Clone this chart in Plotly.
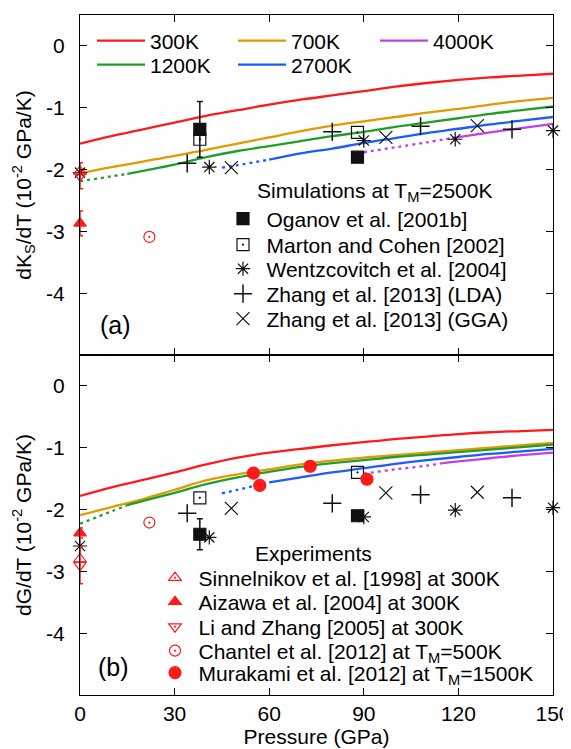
import plotly.graph_objects as go
from plotly.subplots import make_subplots

# ---------------- data ----------------
# Model curves, panel (a): dKs/dT (10^-2 GPa/K)
P_full = [0, 10, 20, 30, 40, 50, 60, 70, 80, 90, 100, 110, 120, 130, 140, 150]
K_300 = [-1.58, -1.46, -1.35, -1.24, -1.13, -1.04, -0.95, -0.87, -0.80, -0.73, -0.66, -0.60, -0.55, -0.51, -0.48, -0.45]
K_700 = [-2.06, -1.96, -1.87, -1.78, -1.68, -1.58, -1.48, -1.38, -1.29, -1.22, -1.15, -1.08, -1.02, -0.95, -0.89, -0.84]
P_1200 = [0, 10, 15, 20, 30, 40, 50, 60, 70, 80, 90, 100, 110, 120, 130, 140, 150]
K_1200 = [-2.19, -2.11, -2.07, -2.02, -1.92, -1.80, -1.70, -1.62, -1.54, -1.46, -1.39, -1.31, -1.24, -1.17, -1.10, -1.04, -0.98]
P_2700 = [45, 50, 60, 70, 80, 90, 100, 110, 120, 130, 140, 150]
K_2700 = [-1.97, -1.93, -1.84, -1.74, -1.66, -1.57, -1.49, -1.41, -1.34, -1.27, -1.21, -1.15]
P_4000K = [90, 100, 110, 118, 130, 140, 150]
K_4000 = [-1.72, -1.64, -1.56, -1.49, -1.40, -1.33, -1.26]

# Model curves, panel (b): dG/dT (10^-2 GPa/K)
G_300 = [-1.78, -1.64, -1.52, -1.40, -1.27, -1.16, -1.08, -1.02, -0.96, -0.91, -0.86, -0.82, -0.78, -0.75, -0.73, -0.71]
G_700 = [-2.09, -1.96, -1.83, -1.68, -1.53, -1.43, -1.35, -1.27, -1.21, -1.16, -1.12, -1.08, -1.04, -1.00, -0.96, -0.92]
G_1200 = [-2.23, -2.03, -1.93, -1.86, -1.73, -1.59, -1.48, -1.39, -1.31, -1.25, -1.20, -1.15, -1.11, -1.07, -1.03, -0.99, -0.95]
G_2700 = [-1.74, -1.68, -1.56, -1.48, -1.40, -1.33, -1.26, -1.20, -1.15, -1.10, -1.06, -1.02]
P_4000G = [90, 100, 110, 115, 120, 130, 140, 150]
G_4000 = [-1.42, -1.35, -1.29, -1.25, -1.22, -1.17, -1.12, -1.08]

# pressure where each curve turns from dotted to solid
solid_from = {"300K": 0, "700K": 0, "1200K": 15, "2700K": 60}
solid_from_4000 = {"a": 118, "b": 115}

# Simulations (panel a / panel b)
ogan_P = [38, 88]
ogan_K = [-1.35, -1.80]
ogan_K_err = [0.45, None]
ogan_G = [-2.40, -2.10]
ogan_G_err = [0.25, None]

marton_P = [38, 88]
marton_K = [-1.51, -1.40]
marton_G = [-1.81, -1.40]

wentz_P = [0, 41, 90, 119, 150]
wentz_K = [-2.05, -1.96, -1.53, -1.51, -1.37]
wentz_G = [-2.59, -2.45, -2.12, -2.01, -1.97]

zlda_P = [34, 80, 108, 137]
zlda_K = [-1.90, -1.39, -1.30, -1.35]
zlda_G = [-2.06, -1.90, -1.76, -1.81]

zgga_P = [48, 97, 126]
zgga_K = [-1.97, -1.48, -1.29]
zgga_G = [-1.98, -1.73, -1.72]

# Experiments
sinn_P = [0]
sinn_K = [-2.03]
sinn_G = [-2.80]

aiz_P = [0]
aiz_K = [-2.87]
aiz_K_err = [0.2]
aiz_G = [-2.38]
aiz_G_err = [0.08]

li_P = [0]
li_K = [-2.10]
li_K_err = [0.21]
li_G = [-2.90]
li_G_err = [0.30]

chan_P = [22]
chan_K = [-3.09]
chan_G = [-2.21]

mura_P = [55, 57, 73, 91]
mura_G = [-1.41, -1.61, -1.30, -1.51]

yticks = [0, -1, -2, -3, -4]
ytext = ["0", "-1", "-2", "-3", "-4"]
xticks = [0, 30, 60, 90, 120, 150]

# ---------------- figure ----------------
colors = {"300K": "#ff1a1a", "700K": "#e39a00", "1200K": "#1f9e2a",
          "2700K": "#1a5cff", "4000K": "#c040e8"}
FONT = "Liberation Sans, Arial, Helvetica, sans-serif"
FS = 21

fig = make_subplots(rows=2, cols=1, shared_xaxes=True, vertical_spacing=0)

DOT = "3px,4px"

# plot area in page pixels (page body has an 8px margin)
L = 80.0
W = 473.0
B = 695.0
H = 680.0


def lx(px):
    return (px - L) / W


def ly(py):
    return (B - py) / H


legend_pos = {}
legend_item_w = {}
counter = [0]


def new_legend(x_px, y_px, itemw):
    counter[0] += 1
    key = "legend" if counter[0] == 1 else "legend%d" % counter[0]
    legend_pos[key] = (lx(x_px), ly(y_px))
    legend_item_w[key] = itemw
    return key


line_legend = {
    "300K": new_legend(92, 41, 48),
    "1200K": new_legend(92, 65, 48),
    "700K": new_legend(233, 41, 48),
    "2700K": new_legend(233, 65, 48),
    "4000K": new_legend(375, 41, 48),
}


def add_curve(P, V, sf, name, row):
    dP = [p for p in P if p <= sf]
    dV = [v for p, v in zip(P, V) if p <= sf]
    sP = [p for p in P if p >= sf]
    sV = [v for p, v in zip(P, V) if p >= sf]
    c = colors[name]
    if len(dP) > 1:
        fig.add_trace(go.Scatter(x=dP, y=dV, mode="lines", showlegend=False,
                                 line=dict(color=c, width=2.3, dash=DOT, shape="spline"),
                                 hoverinfo="skip"), row=row, col=1)
    fig.add_trace(go.Scatter(x=sP, y=sV, mode="lines", name=name,
                             legend=line_legend[name], showlegend=(row == 1),
                             line=dict(color=c, width=2.3, shape="spline")),
                  row=row, col=1)


add_curve(P_full, K_300, solid_from["300K"], "300K", 1)
add_curve(P_full, K_700, solid_from["700K"], "700K", 1)
add_curve(P_1200, K_1200, solid_from["1200K"], "1200K", 1)
add_curve(P_2700, K_2700, solid_from["2700K"], "2700K", 1)
add_curve(P_4000K, K_4000, solid_from_4000["a"], "4000K", 1)

add_curve(P_full, G_300, solid_from["300K"], "300K", 2)
add_curve(P_full, G_700, solid_from["700K"], "700K", 2)
add_curve(P_1200, G_1200, solid_from["1200K"], "1200K", 2)
add_curve(P_2700, G_2700, solid_from["2700K"], "2700K", 2)
add_curve(P_4000G, G_4000, solid_from_4000["b"], "4000K", 2)

BLK = "#111111"
RED = "#ff1a1a"

sim_y = [219, 245, 269, 294, 319]
exp_y = [578, 602, 627, 651, 673]
MW = 37
sim_leg = [new_legend(243 - (MW / 2 + 5), y, MW) for y in sim_y]
exp_leg = [new_legend(175 - (MW / 2 + 5), y, MW) for y in exp_y]


def pts(x, y, name, symbol, color, size, row, legend, show, lw=1.2, err=None):
    kw = {}
    if err is not None:
        kw["error_y"] = dict(type="data", array=err, visible=True, color=color,
                             thickness=1.5, width=3)
    fig.add_trace(go.Scatter(x=x, y=y, mode="markers", name=name, legend=legend,
                             showlegend=show, cliponaxis=False,
                             marker=dict(symbol=symbol, size=size, color=color,
                                         line=dict(color=color, width=lw)),
                             **kw), row=row, col=1)


# simulations
sims = [
    ("Oganov et al. [2001b]", "square", 12, 1.2, ogan_K, ogan_G, ogan_K_err, ogan_G_err, ogan_P),
    ("Marton and Cohen [2002]", "square-open-dot", 12, 1.2, marton_K, marton_G, None, None, marton_P),
    ("Wentzcovitch et al. [2004]", "asterisk-open", 12, 1.2, wentz_K, wentz_G, None, None, wentz_P),
    ("Zhang et al. [2013] (LDA)", "cross-thin-open", 13, 1.5, zlda_K, zlda_G, None, None, zlda_P),
    ("Zhang et al. [2013] (GGA)", "x-thin-open", 13, 1.2, zgga_K, zgga_G, None, None, zgga_P),
]
for i, (nm, sym, sz, lw, vk, vg, ek, eg, P) in enumerate(sims):
    pts(P, vk, nm, sym, BLK, sz, 1, sim_leg[i], True, lw=lw, err=ek)
    pts(P, vg, nm, sym, BLK, sz, 2, sim_leg[i], False, lw=lw, err=eg)

# experiments
pts(aiz_P, aiz_K, "Aizawa et al. [2004] at 300K", "triangle-up", RED, 11, 1, exp_leg[1], False, err=aiz_K_err)
pts(li_P, li_K, "Li and Zhang [2005] at 300K", "triangle-down-open-dot", RED, 11, 1, exp_leg[2], False, err=li_K_err)
pts(sinn_P, sinn_K, "Sinnelnikov et al. [1998] at 300K", "triangle-up-open-dot", RED, 11, 1, exp_leg[0], False)
pts(chan_P, chan_K, "Chantel et al. [2012] at T<sub>M</sub>=500K", "circle-open-dot", RED, 11, 1, exp_leg[3], False)

pts(sinn_P, sinn_G, "Sinnelnikov et al. [1998] at 300K", "triangle-up-open-dot", RED, 11, 2, exp_leg[0], True)
pts(aiz_P, aiz_G, "Aizawa et al. [2004] at 300K", "triangle-up", RED, 11, 2, exp_leg[1], True, err=aiz_G_err)
pts(li_P, li_G, "Li and Zhang [2005] at 300K", "triangle-down-open-dot", RED, 11, 2, exp_leg[2], True, err=li_G_err)
pts(chan_P, chan_G, "Chantel et al. [2012] at T<sub>M</sub>=500K", "circle-open-dot", RED, 11, 2, exp_leg[3], True)
pts(mura_P, mura_G, "Murakami et al. [2012] at T<sub>M</sub>=1500K", "circle", RED, 12, 2, exp_leg[4], True)

# ---------------- layout ----------------
axis_common = dict(ticks="inside", ticklen=7, tickwidth=1.2, tickcolor="black",
                   showline=True, linecolor="black", linewidth=1.4, mirror="ticks",
                   showgrid=False, zeroline=False, automargin=False,
                   tickfont=dict(size=FS, family=FONT, color="black"))

fig.update_xaxes(range=[0, 150], tickvals=xticks, **axis_common)
fig.update_xaxes(title_text="Pressure (GPa)", title_standoff=4, ticklabelstandoff=0,
                 title_font=dict(size=FS), row=2, col=1)
fig.update_yaxes(range=[-5, 0.5], tickvals=yticks, ticktext=ytext, ticklabelstandoff=10,
                 title_standoff=8, title_font=dict(size=FS), **axis_common)
fig.update_yaxes(title_text="dK<sub>S</sub>/dT (10<sup>-2</sup> GPa/K)", row=1, col=1)
fig.update_yaxes(title_text="dG/dT (10<sup>-2</sup> GPa/K)", row=2, col=1)

legends = {}
for key, (x, y) in legend_pos.items():
    legends[key] = dict(x=x, y=y, xanchor="left", yanchor="middle",
                        itemwidth=max(30, legend_item_w[key]),
                        bgcolor="rgba(0,0,0,0)", borderwidth=0,
                        font=dict(size=FS, family=FONT, color="black"))

# figure is drawn inside the page body's 8px margin
fig.update_layout(
    width=563, height=741,
    margin=dict(l=72, r=18, t=7, b=54),
    plot_bgcolor="white", paper_bgcolor="white",
    font=dict(family=FONT, size=FS, color="black"),
    annotations=[
        dict(text="Simulations at T<sub>M</sub>=2500K", x=lx(255), y=ly(192), xref="paper", yref="paper",
             xanchor="left", yanchor="middle", showarrow=False, font=dict(size=FS)),
        dict(text="Experiments", x=lx(253), y=ly(553), xref="paper", yref="paper",
             xanchor="left", yanchor="middle", showarrow=False, font=dict(size=FS)),
        dict(text="(a)", x=lx(115), y=ly(325), xref="paper", yref="paper",
             xanchor="center", yanchor="middle", showarrow=False, font=dict(size=25)),
        dict(text="(b)", x=lx(113), y=ly(667), xref="paper", yref="paper",
             xanchor="center", yanchor="middle", showarrow=False, font=dict(size=25)),
    ],
    **legends,
)

fig.write_html("out.html")
